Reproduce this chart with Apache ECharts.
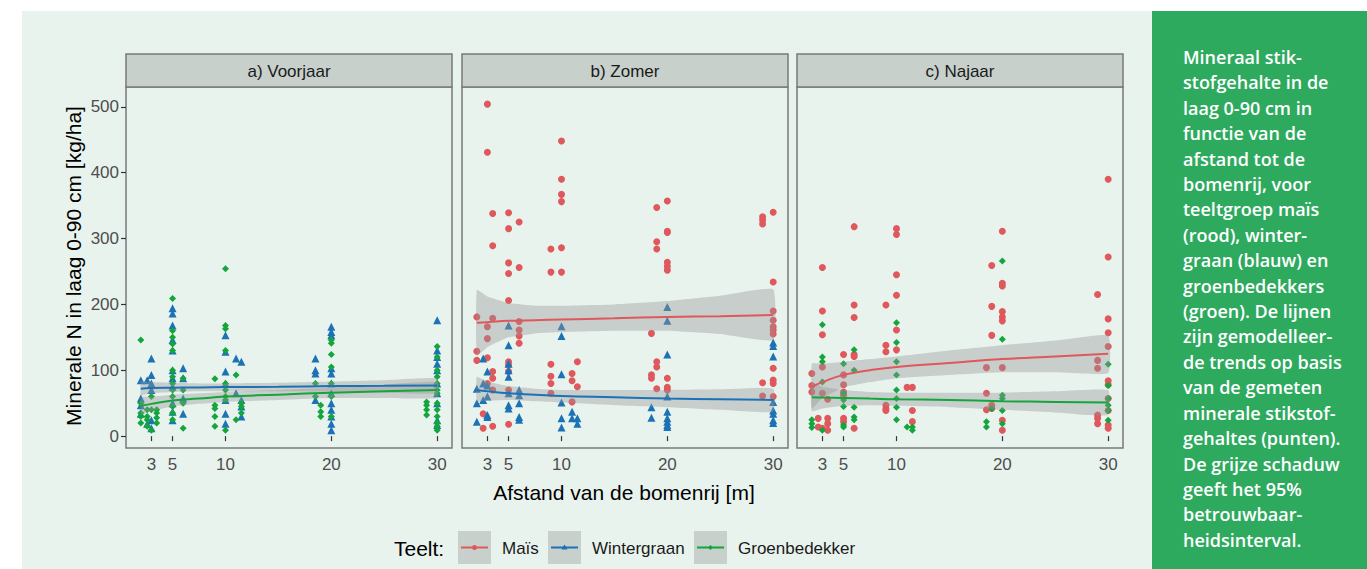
<!DOCTYPE html>
<html><head><meta charset="utf-8">
<script src="https://cdn.jsdelivr.net/npm/echarts@6/dist/echarts.min.js"></script>
<style>
html,body{margin:0;padding:0;background:#ffffff;}
#bg{position:absolute;left:22px;top:11px;width:1130px;height:558px;background:#e9f3ee;}
#chart{position:absolute;left:0;top:0;width:1367px;height:569px;}
#note{position:absolute;left:1152px;top:11px;width:215px;height:558px;background:#2eaa5f;color:#ffffff;
 font-family:'Open Sans',sans-serif;font-weight:600;font-size:18px;line-height:25.4px;box-sizing:border-box;padding:34px 0 0 31px;white-space:nowrap;}
</style></head>
<body>
<div id="bg"></div>
<div id="chart"></div>
<div id="note">Mineraal stik-<br>stofgehalte in de<br>laag 0-90 cm in<br>functie van de<br>afstand tot de<br>bomenrij, voor<br>teeltgroep maïs<br>(rood), winter-<br>graan (blauw) en<br>groenbedekkers<br>(groen). De lijnen<br>zijn gemodelleer-<br>de trends op basis<br>van de gemeten<br>minerale stikstof-<br>gehaltes (punten).<br>De grijze schaduw<br>geeft het 95%<br>betrouwbaar-<br>heidsinterval.</div>
<script>
// ---------- data ----------
const panels = ['a) Voorjaar', 'b) Zomer', 'c) Najaar'];
const seriesNames = ['Maïs', 'Wintergraan', 'Groenbedekker'];
const xTicks = [3, 5, 10, 20, 30];
const yTicks = [0, 100, 200, 300, 400, 500];

// measured points [afstand (m), minerale N (kg/ha)]
const groenVoorjaar = [[2,146],[2,50],[2,35],[2,30],[2,20],[2.6,40],[2.6,30],[2.6,25],[2.6,15],[3,60],[3,40],[3,9],
 [3.5,40],[3.5,35],[3.5,28],[3.5,20],[5,209],[5,160],[5,150],[5,140],[5,130],[5,100],[5,90],[5,80],[5,70],[5,60],[5,45],[5,35],[5,25],
 [6,88],[6,70],[6,50],[6,12],[9,87],[9,47],[9,42],[9,30],[9,15],[10,254],[10,168],[10,163],[10,130],[10,80],[10,70],[10,60],[10,55],[10,9],
 [11,93],[11,25],[11.5,50],[11.5,45],[11.5,35],[18.5,80],[18.5,60],[19,47],[19,37],[19,30],
 [20,146],[20,141],[20,124],[20,105],[20,80],[20,60],[20,30],[29,52],[29,47],[29,40],[29,32],
 [30,136],[30,120],[30,100],[30,90],[30,80],[30,70],[30,65],[30,50],[30,40],[30,30],[30,20],[30,15],[30,9]];
const wintVoorjaar = [[2,85],[2,57],[2,47],[2,34],[2.6,85],[2.6,19],[3,118],[3,93],[3,80],[3,70],[3,24],[3,12],
 [5,194],[5,186],[5,168],[5,146],[5,130],[5,100],[5,88],[5,75],[5,50],[5,37],[5,24],[6,103],[6,88],[6,57],[6,34],
 [10,153],[10,128],[10,98],[10,80],[10,55],[10,34],[10,19],[11,118],[11,65],[11.5,113],[11.5,55],[11.5,45],[11.5,30],
 [18.5,118],[18.5,100],[18.5,95],[18.5,55],[20,166],[20,158],[20,153],[20,103],[20,95],[20,80],[20,65],[20,50],[20,40],[20,30],[20,19],[20,9],
 [30,176],[30,130],[30,120],[30,110],[30,100],[30,80],[30,65],[30,50],[30,24],[30,17]];
const maisZomer = [[2,181],[2,129],[2,115],[2.6,34],[2.6,12],[3,504],[3,431],[3,166],[3,148],[3,119],[3,80],
 [3.5,338],[3.5,289],[3.5,179],[3.5,98],[3.5,88],[3.5,70],[3.5,15],[5,339],[5,315],[5,263],[5,247],[5,206],[5,113],[5,108],[5,98],[5,70],[5,18],
 [6,325],[6,256],[6,174],[6,161],[6,152],[6,141],[9,284],[9,249],[9,109],[9,91],[9,80],[9,65],
 [10,448],[10,390],[10,367],[10,356],[10,286],[10,249],[11,95],[11,84],[11,52],[11.5,113],[11.5,75],
 [18.5,156],[18.5,93],[18.5,88],[19,347],[19,295],[19,284],[19,113],[19,105],[19,72],
 [20,357],[20,311],[20,309],[20,264],[20,258],[20,252],[20,88],[20,74],[20,70],[29,333],[29,328],[29,322],[29,81],[29,61],
 [30,340],[30,234],[30,190],[30,176],[30,166],[30,161],[30,155],[30,103],[30,85],[30,80],[30,60]];
const wintZomer = [[2,72],[2,50],[2,22],[2.6,118],[2.6,80],[2.6,55],[3,98],[3,77],[3,60],[3,32],[3,29],
 [5,168],[5,138],[5,110],[5,100],[5,90],[5,65],[5,47],[5,42],[6,70],[6,62],[6,50],[6,29],[6,25],
 [10,167],[10,152],[10,94],[10,51],[10,27],[10,13],[11,37],[11,27],[11.5,27],[11.5,19],[18.5,44],[18.5,28],
 [20,196],[20,175],[20,124],[20,60],[20,37],[20,27],[20,22],[20,17],[20,14],
 [30,142],[30,137],[30,121],[30,52],[30,39],[30,34],[30,24],[30,20]];
const maisNajaar = [[2,95],[2,77],[2,67],[2.6,27],[2.6,14],[3,256],[3,190],[3,154],[3,105],[3,65],[3,12],
 [3.5,56],[3.5,27],[3.5,19],[3.5,9],[5,124],[5,93],[5,78],[5,67],[5,62],[5,27],[5,22],
 [6,318],[6,199],[6,180],[6,124],[6,121],[6,12],[9,199],[9,138],[9,128],[9,47],[9,42],[9,39],
 [10,315],[10,306],[10,245],[10,214],[10,161],[10,131],[11,74],[11.5,74],[11.5,39],[11.5,22],
 [18.5,104],[18.5,65],[18.5,40],[19,259],[19,197],[19,153],[19,47],[19,42],
 [20,311],[20,232],[20,228],[20,189],[20,181],[20,175],[20,104],[20,24],[20,9],
 [29,215],[29,115],[29,103],[29,32],[29,27],[29,19],
 [30,390],[30,272],[30,178],[30,157],[30,136],[30,84],[30,78],[30,57],[30,39],[30,17],[30,12]];
const groenNajaar = [[2,25],[2,19],[2,13],[3,169],[3,120],[3,113],[3,82],[3,9],[5,110],[5,65],[5,55],[5,45],[5,17],[5,14],
 [6,131],[6,100],[6,44],[6,29],[6,25],[10,172],[10,142],[10,113],[10,93],[10,70],[10,57],[10,44],[10,25],
 [11,14],[11.5,14],[11.5,9],[18.5,22],[18.5,14],[19,42],[20,266],[20,147],[20,62],[20,57],[20,39],[20,19],
 [30,109],[30,77],[30,57],[30,47],[30,39],[30,24]];

// modelled trends (fit, lower and upper 95% limits) read at these distances
const trendX = [2, 3, 5, 7.5, 10, 15, 20, 25, 30];
const wintVoorjaarFit = [72, 73, 73.5, 74, 74.5, 75, 76, 76.5, 77];
const wintVoorjaarLo  = [62, 65, 67, 68, 68, 68, 67, 66, 65];
const wintVoorjaarHi  = [84, 82, 81, 80, 80, 81, 83, 85, 88];
const groenVoorjaarFit = [46, 49, 54, 57, 60, 63, 66, 68, 70];
const groenVoorjaarLo  = [33, 38, 45, 49, 52, 55, 58, 58, 58];
const groenVoorjaarHi  = [59, 60, 63, 65, 67, 70, 74, 78, 82];
const maisZomerFit = [172, 173, 175, 176, 177, 179, 181, 182, 184];
const maisZomerLo  = [122, 135, 150, 156, 158, 160, 160, 155, 146];
const maisZomerHi  = [222, 212, 202, 198, 198, 200, 205, 213, 223];
const wintZomerFit = [70, 68, 65, 63, 61, 59, 57, 56, 55];
const wintZomerLo  = [52, 54, 55, 53, 51, 47, 44, 40, 37];
const wintZomerHi  = [90, 83, 76, 72, 70, 70, 70, 71, 72];
const maisNajaarFit = [75, 82, 93, 100, 105, 111, 117, 121, 125];
const maisNajaarLo  = [42, 58, 74, 82, 88, 93, 97, 97, 96];
const maisNajaarHi  = [110, 110, 113, 117, 121, 130, 138, 145, 153];
const groenNajaarFit = [59, 58.5, 58, 57, 56, 55, 53, 52, 51];
const groenNajaarLo  = [38, 42, 46, 47, 46, 44, 40, 36, 32];
const groenNajaarHi  = [80, 75, 70, 67, 66, 66, 66, 68, 70];

// ---------- styling ----------
const colors = {'Maïs':'#df585c', 'Wintergraan':'#1b72b6', 'Groenbedekker':'#12a63c'};
const symbols = {'Maïs':'circle', 'Wintergraan':'triangle', 'Groenbedekker':'diamond'};
const symSize = {'Maïs':7, 'Wintergraan':8, 'Groenbedekker':7};
const FONT = '"Liberation Sans", Arial, sans-serif';
const gridLefts = [126, 462, 797];
const gridW = 326, gridTop = 87, gridH = 361, stripTop = 54;

const panelData = [
  {points:[['Wintergraan', wintVoorjaar], ['Groenbedekker', groenVoorjaar]],
   trends:[['Wintergraan', wintVoorjaarFit, wintVoorjaarLo, wintVoorjaarHi], ['Groenbedekker', groenVoorjaarFit, groenVoorjaarLo, groenVoorjaarHi]]},
  {points:[['Maïs', maisZomer], ['Wintergraan', wintZomer]],
   trends:[['Maïs', maisZomerFit, maisZomerLo, maisZomerHi], ['Wintergraan', wintZomerFit, wintZomerLo, wintZomerHi]]},
  {points:[['Maïs', maisNajaar], ['Groenbedekker', groenNajaar]],
   trends:[['Maïs', maisNajaarFit, maisNajaarLo, maisNajaarHi], ['Groenbedekker', groenNajaarFit, groenNajaarLo, groenNajaarHi]]}
];

const grid = [], xAxis = [], yAxis = [], series = [], graphic = [];
panels.forEach((title, i) => {
  grid.push({left: gridLefts[i], top: gridTop, width: gridW, height: gridH,
    show: true, borderColor: '#7a7a7a', borderWidth: 1.5, backgroundColor: 'transparent'});
  xAxis.push({type:'value', gridIndex:i, min:0.6, max:31.4,
    axisLine:{show:false}, splitLine:{show:false},
    axisTick:{show:true, customValues:xTicks, length:5, lineStyle:{color:'#333', width:1.2}},
    axisLabel:{customValues:xTicks, fontSize:17, color:'#4d4d4d', fontFamily:FONT, margin:8}});
  yAxis.push({type:'value', gridIndex:i, min:-18, max:530,
    axisLine:{show:false}, splitLine:{show:false},
    axisTick:{show:i===0, customValues:yTicks, length:5, lineStyle:{color:'#333', width:1.2}},
    axisLabel:{show:i===0, customValues:yTicks, fontSize:17, color:'#4d4d4d', fontFamily:FONT, margin:7}});
  // strip
  graphic.push({type:'rect', shape:{x:gridLefts[i], y:stripTop, width:gridW, height:gridTop-stripTop},
    style:{fill:'#c8d0cb', stroke:'#7a7a7a', lineWidth:1.5}, z:10});
  graphic.push({type:'text', x:gridLefts[i]+gridW/2, y:(stripTop+gridTop)/2+1,
    style:{text:title, font:'17px '+FONT, fill:'#1a1a1a', textAlign:'center', textVerticalAlign:'middle'}, z:11});

  const pd = panelData[i];
  pd.points.forEach(([name, pts]) => {
    series.push({type:'scatter', name, xAxisIndex:i, yAxisIndex:i, data:pts,
      symbol:symbols[name], symbolSize:symSize[name], itemStyle:{color:colors[name], opacity:1}, z:2, silent:true});
  });
  pd.trends.forEach(([name, fit, lo, hi]) => {
    const bandData = trendX.map((x, k) => [x, lo[k], hi[k]]);
    series.push({type:'custom', name: name + ' 95%', xAxisIndex:i, yAxisIndex:i, data:bandData,
      encode:{x:0, y:[1,2]}, z:3, silent:true,
      renderItem:(params, api) => {
        if (params.dataIndex !== 0) return null;
        const up = bandData.map(d => api.coord([d[0], d[2]]));
        const dn = bandData.slice().reverse().map(d => api.coord([d[0], d[1]]));
        return {type:'polygon', shape:{points: up.concat(dn), smooth:0.12},
          style:{fill:'rgba(150,150,150,0.4)'}};
      }});
    series.push({type:'line', name, xAxisIndex:i, yAxisIndex:i,
      data: trendX.map((x, k) => [x, fit[k]]), smooth:true, showSymbol:false,
      lineStyle:{color:colors[name], width:2}, itemStyle:{color:colors[name]}, z:4, silent:true});
  });
});

// axis titles
graphic.push({type:'text', x:73, y:266, rotation:Math.PI/2,
  style:{text:'Minerale N in laag 0-90 cm [kg/ha]', font:'21px '+FONT, fill:'#000', textAlign:'center', textVerticalAlign:'middle'}});
graphic.push({type:'text', x:624, y:492,
  style:{text:'Afstand van de bomenrij [m]', font:'21px '+FONT, fill:'#000', textAlign:'center', textVerticalAlign:'middle'}});

// legend
graphic.push({type:'text', x:394, y:548,
  style:{text:'Teelt:', font:'21px '+FONT, fill:'#000', textAlign:'left', textVerticalAlign:'middle'}});
const keyX = [458, 548, 694];
seriesNames.forEach((name, k) => {
  const kx = keyX[k];
  graphic.push({type:'rect', shape:{x:kx, y:531, width:33, height:33}, style:{fill:'#c8d0cb'}});
  graphic.push({type:'line', shape:{x1:kx+3, y1:547.5, x2:kx+30, y2:547.5}, style:{stroke:colors[name], lineWidth:2}});
  let sym;
  if (name === 'Maïs') sym = {type:'circle', shape:{cx:kx+16.5, cy:547.5, r:2.5}, style:{fill:colors[name]}};
  else if (name === 'Wintergraan') sym = {type:'polygon', shape:{points:[[kx+16.5,544.5],[kx+19.5,549.5],[kx+13.5,549.5]]}, style:{fill:colors[name]}};
  else sym = {type:'polygon', shape:{points:[[kx+16.5,545],[kx+19,547.5],[kx+16.5,550],[kx+14,547.5]]}, style:{fill:colors[name]}};
  graphic.push(sym);
  graphic.push({type:'text', x:kx+44, y:548,
    style:{text:name, font:'17px '+FONT, fill:'#1a1a1a', textAlign:'left', textVerticalAlign:'middle'}});
});

const chart = echarts.init(document.getElementById('chart'), null, {renderer:'svg'});
chart.setOption({
  animation:false,
  backgroundColor:'transparent',
  textStyle:{fontFamily:FONT},
  grid, xAxis, yAxis, series, graphic
});
</script>
</body></html>
